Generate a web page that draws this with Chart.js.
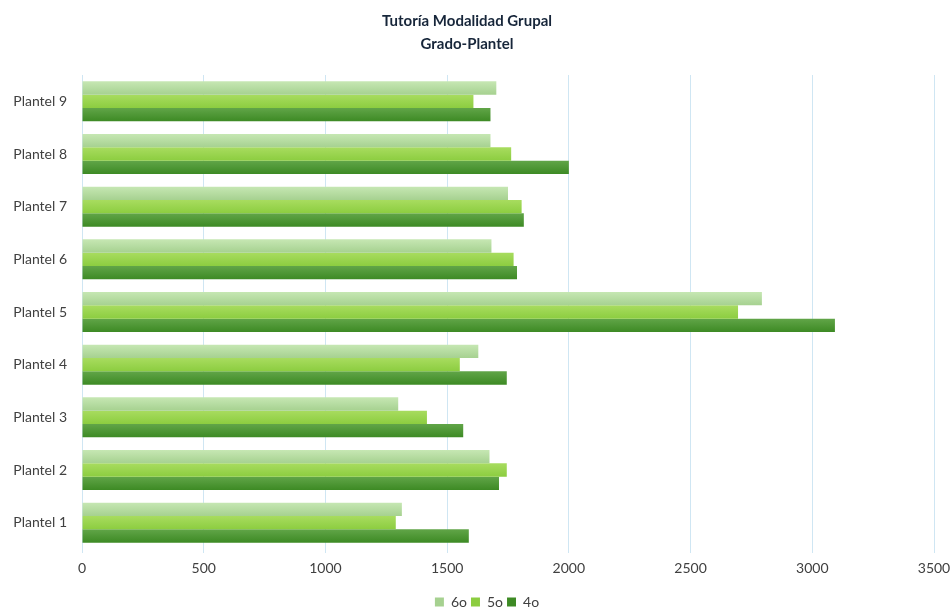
<!DOCTYPE html>
<html>
<head>
<meta charset="utf-8">
<script src="https://cdn.jsdelivr.net/npm/chart.js@4"></script>
<style>
  html, body { margin: 0; padding: 0; background: #fff; }
  canvas { display: block; }
</style>
</head>
<body>
<canvas id="chart" width="951" height="609"></canvas>
<script>
// categories listed top to bottom as drawn
const categories = ['Plantel 9', 'Plantel 8', 'Plantel 7', 'Plantel 6', 'Plantel 5', 'Plantel 4', 'Plantel 3', 'Plantel 2', 'Plantel 1'];
const seriesNames = ['6o', '5o', '4o'];
const values6o = [1702, 1678, 1750, 1682, 2793, 1628, 1299, 1674, 1314];
const values5o = [1608, 1763, 1806, 1773, 2695, 1552, 1417, 1745, 1289];
const values4o = [1678, 2000, 1815, 1787, 3093, 1745, 1566, 1713, 1589];
const xTicks = [0, 500, 1000, 1500, 2000, 2500, 3000, 3500];

const CAT_PCT = 0.76;

const fills = [
  ['#c6e7b3', '#a6d190'],
  ['#a8dc5f', '#8ccd40'],
  ['#61a548', '#3d8a24'],
];

function barFill(stops) {
  return (ctx) => {
    const chart = ctx.chart;
    const y = chart.scales.y;
    if (ctx.type !== 'data' || !y || !chart.chartArea) return stops[1];
    const band = y.height / categories.length;
    const group = band * CAT_PCT;
    const barH = group / seriesNames.length;
    const top = y.getPixelForValue(ctx.dataIndex) - group / 2 + ctx.datasetIndex * barH;
    const g = chart.ctx.createLinearGradient(0, top, 0, top + barH);
    g.addColorStop(0, stops[0]);
    g.addColorStop(1, stops[1]);
    return g;
  };
}

function makeDataset(label, data, i) {
  return {
    label,
    data,
    backgroundColor: barFill(fills[i]),
    borderWidth: 0,
    barPercentage: 1,
    categoryPercentage: CAT_PCT,
  };
}

const textColor = '#404040';
const gridColor = '#cfe6f3';

// legend in the original sits a little right of centre
const legendShift = {
  id: 'legendShift',
  afterLayout(chart) {
    const l = chart.legend;
    if (!l) return;
    l.left += 20;
    l.right += 20;
  },
};

new Chart(document.getElementById('chart'), {
  type: 'bar',
  data: {
    labels: categories,
    datasets: [
      makeDataset(seriesNames[0], values6o, 0),
      makeDataset(seriesNames[1], values5o, 1),
      makeDataset(seriesNames[2], values4o, 2),
    ],
  },
  plugins: [legendShift],
  options: {
    indexAxis: 'y',
    responsive: false,
    animation: false,
    layout: { padding: { left: 0, right: 17, top: 0, bottom: -10 } },
    plugins: {
      title: {
        display: true,
        text: ['Tutoría Modalidad Grupal', 'Grado-Plantel'],
        color: '#17263a',
        font: { family: 'Lato', size: 15, weight: 'bold', lineHeight: 1.5 },
        padding: { top: 10, bottom: 20 },
      },
      legend: {
        position: 'bottom',
        labels: {
          color: textColor,
          font: { family: 'Lato', size: 14 },
          boxWidth: 9,
          boxHeight: 9,
          padding: 4,
          generateLabels: () => seriesNames.map((name, i) => ({
            text: name,
            fillStyle: fills[i][1],
            strokeStyle: fills[i][1],
            lineWidth: 0,
            fontColor: textColor,
            datasetIndex: i,
          })),
        },
      },
      tooltip: { enabled: false },
    },
    scales: {
      x: {
        min: 0,
        max: 3500,
        afterBuildTicks: (scale) => {
          scale.ticks = xTicks.map((v) => ({ value: v }));
        },
        afterFit: (scale) => {
          scale.height = 42;
          scale.paddingLeft = 0;
          scale.paddingRight = 0;
        },
        grid: { color: gridColor, lineWidth: 1, tickLength: 4, drawTicks: true },
        border: { display: false },
        ticks: {
          color: textColor,
          font: { family: 'Lato', size: 14 },
          padding: 7,
          callback: (v) => String(v),
        },
      },
      y: {
        afterFit: (scale) => { scale.width = 82; },
        grid: { display: false, drawTicks: false },
        border: { display: true, color: gridColor, width: 1 },
        ticks: { color: textColor, font: { family: 'Lato', size: 14 }, padding: 15 },
      },
    },
  },
});
</script>
</body>
</html>
